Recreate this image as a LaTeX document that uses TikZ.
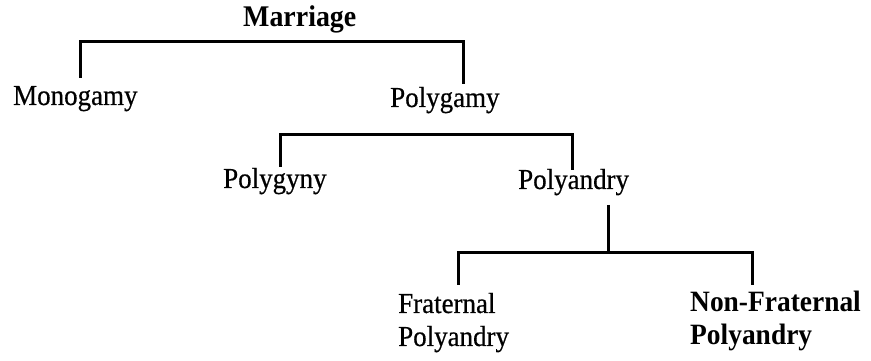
\documentclass[tikz,border=0pt]{standalone}
\usepackage{fontspec}
\setmainfont{Liberation Serif}[FakeStretch=0.93]
\newfontfamily\regfont{Liberation Serif}[FakeStretch=0.93,FakeBold=0.5]
\begin{document}
\begin{tikzpicture}[x=1pt,y=1pt,
  lbl/.style={anchor=base west,inner sep=0pt,font=\regfont\fontsize{29}{33}\selectfont},
  blbl/.style={anchor=base west,inner sep=0pt,font=\rmfamily\fontsize{30}{33}\selectfont\bfseries},
  tree/.style={line width=3pt,line join=miter,black}]
\useasboundingbox (0,0) rectangle (871,361);
% nodes
\node[blbl] (marriage) at (243,334) {Marriage};
\node[lbl] (mono) at (13,256) {Monogamy};
\node[lbl] (polygamy) at (390,254) {Polygamy};
\node[lbl] (polygyny) at (223,173) {Polygyny};
\node[lbl] (polyandry) at (518,172) {Polyandry};
\node[lbl,align=left] (frat) at (398,15) {Fraternal\\Polyandry};
\node[blbl,align=left,font=\rmfamily\fontsize{29.5}{33}\selectfont\bfseries] (nonfrat) at (690,16) {Non-Fraternal\\Polyandry};
% connector points
\coordinate (m-top) at (271,319);
\coordinate (m-l) at (80,283);
\coordinate (m-r) at (463,277);
\coordinate (p-top) at (426,226);
\coordinate (p-l) at (280,194);
\coordinate (p-r) at (572,191);
\coordinate (a-src) at (608,156);
\coordinate (a-top) at (608,108);
\coordinate (a-l) at (458,76);
\coordinate (a-r) at (752,76);
% connectors
\draw[tree] (m-l) |- (m-top) -| (m-r);
\draw[tree] (p-l) |- (p-top) -| (p-r);
\draw[tree] (a-src) -- (a-top);
\draw[tree] (a-l) |- (a-top) -| (a-r);
\end{tikzpicture}
\end{document}
